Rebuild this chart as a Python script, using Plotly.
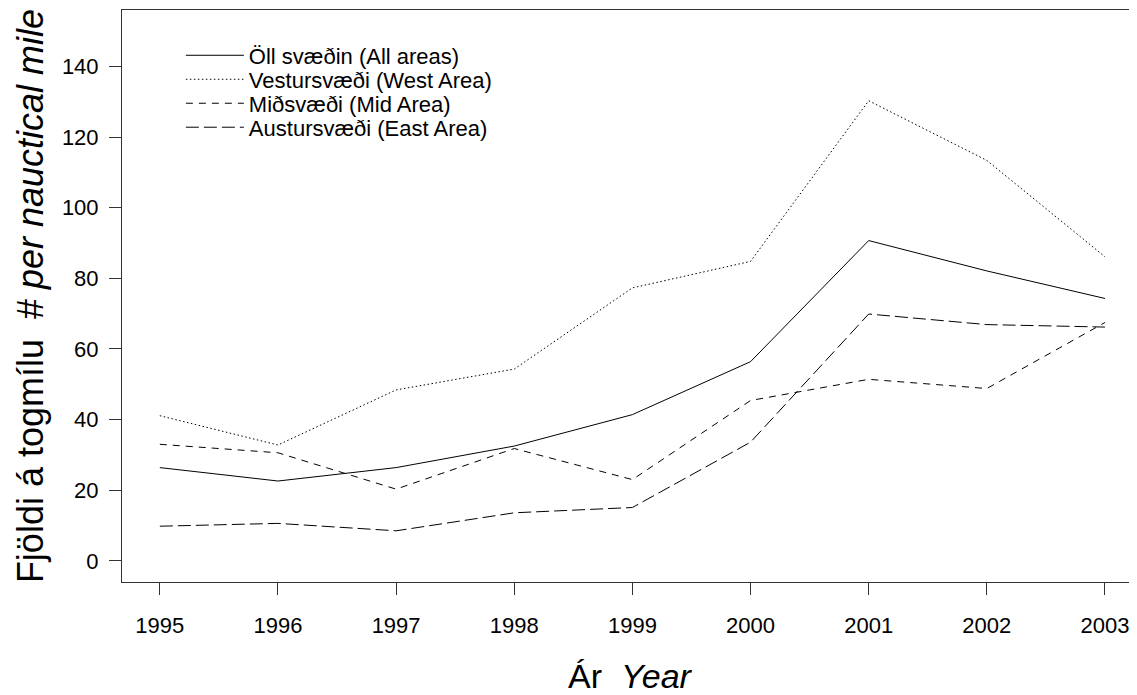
import plotly.graph_objects as go

years = [1995, 1996, 1997, 1998, 1999, 2000, 2001, 2002, 2003]
all_areas = [26.4, 22.6, 26.4, 32.5, 41.4, 56.4, 90.7, 82.1, 74.3]
west_area = [41.1, 32.8, 48.4, 54.3, 77.3, 84.8, 130.3, 113.4, 86.1]
mid_area = [33.0, 30.6, 20.3, 31.8, 23.0, 45.4, 51.4, 48.8, 67.5]
east_area = [9.8, 10.6, 8.5, 13.6, 15.1, 33.6, 69.9, 66.9, 66.2]

series_names = [
    "Öll svæðin (All areas)",
    "Vestursvæði (West Area)",
    "Miðsvæði (Mid Area)",
    "Austursvæði (East Area)",
]
series_values = [all_areas, west_area, mid_area, east_area]
series_dash = ["solid", "1.5px,2.5px", "7px,6px", "13px,5px"]
y_ticks = [0, 20, 40, 60, 80, 100, 120, 140]

FONT = "Liberation Sans, Arial, sans-serif"
# the page body adds an 8px offset; size the figure so the visible window matches
PAGE_OFF = 8
W, H = 1137 - PAGE_OFF, 695 - PAGE_OFF
M_T, M_B, M_L = 9.5 - PAGE_OFF, 113, 122 - PAGE_OFF
plot_h = H - M_T - M_B

legend_ids = ["legend", "legend2", "legend3", "legend4"]
row_tops_px = [34, 58, 82, 106]

fig = go.Figure()
for name, vals, dash, lid in zip(series_names, series_values, series_dash, legend_ids):
    fig.add_trace(go.Scatter(
        x=years, y=vals, name=name, mode="lines",
        line=dict(color="black", width=1, dash=dash),
        legend=lid,
    ))

legend_layout = {}
for lid, top_px in zip(legend_ids, row_tops_px):
    legend_layout[lid] = dict(
        x=0.058, y=1 - (top_px - 9.5) / plot_h, xanchor="left", yanchor="top",
        bgcolor="rgba(0,0,0,0)", borderwidth=0,
        font=dict(size=22, family=FONT, color="black"),
        itemwidth=58,
    )

fig.update_layout(
    width=W, height=H,
    margin=dict(l=M_L, r=0, t=M_T, b=M_B, autoexpand=False),
    paper_bgcolor="white", plot_bgcolor="white",
    font=dict(family=FONT, color="black", size=22),
    showlegend=True,
    xaxis=dict(
        range=[1994.68, 2003.271],
        tickmode="array", tickvals=years, ticktext=[str(y) for y in years],
        ticks="outside", ticklen=12, tickwidth=1, tickcolor="#333",
        showline=True, linecolor="#333", linewidth=1, mirror=True,
        showgrid=False, zeroline=False, automargin=False,
        ticklabelstandoff=12,
        tickfont=dict(size=22),
        title=dict(text="Ár\u00a0 <i>Year</i>", font=dict(size=34), standoff=30),
    ),
    yaxis=dict(
        range=[-6, 156],
        tickmode="array", tickvals=y_ticks,
        ticks="outside", ticklen=12, tickwidth=1, tickcolor="#333",
        showline=True, linecolor="#333", linewidth=1, mirror=False,
        showgrid=False, zeroline=False, automargin=False,
        ticklabelstandoff=6,
        tickfont=dict(size=22),
        title=dict(text="Fjöldi á togmílu\u00a0 # <i>per nauctical mile</i>", font=dict(size=36), standoff=7),
    ),
    **legend_layout,
)

fig.write_html("out.html")
